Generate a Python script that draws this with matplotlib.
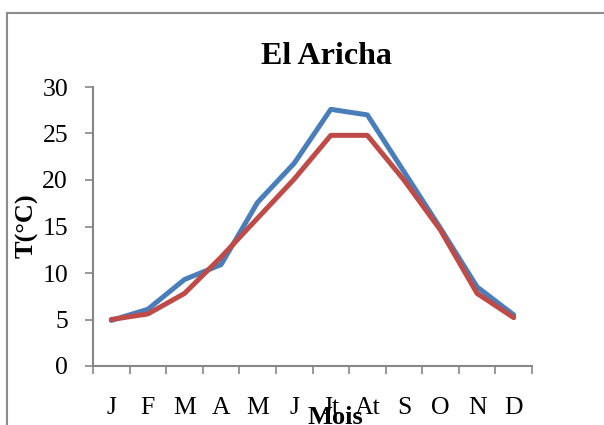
from matplotlib import pyplot as plt
from matplotlib.patches import Rectangle

# monthly temperatures at El Aricha, two series
mois = ['J', 'F', 'M', 'A', 'M', 'J', 'Jt', 'At', 'S', 'O', 'N', 'D']
serie1 = [4.9, 6.1, 9.3, 10.9, 17.6, 21.8, 27.6, 27.0, 20.9, 14.8, 8.5, 5.5]
serie2 = [5.0, 5.6, 7.8, 11.7, 15.9, 20.1, 24.8, 24.8, 20.0, 14.6, 7.8, 5.2]
yticks = [0, 5, 10, 15, 20, 25, 30]

plt.rcParams['font.family'] = ['Liberation Serif', 'DejaVu Serif']

fig = plt.figure(figsize=(6.04, 4.25), dpi=100)
# outer chart frame, running off the right and bottom edges
fig.patches.append(Rectangle((7 / 604, -0.1), 1.2, 1 - 13 / 425 + 0.1,
                             transform=fig.transFigure, fill=False,
                             edgecolor='#8c8c8c', linewidth=1.5))

ax = fig.add_axes([93 / 604, 59 / 425, 439 / 604, 279 / 425])
x = list(range(1, len(mois) + 1))
ax.plot(x, serie1, color='#4a7ebb', linewidth=3.6, solid_capstyle='round')
ax.plot(x, serie2, color='#be4b48', linewidth=3.6, solid_capstyle='round')

ax.set_xlim(0.5, len(mois) + 0.5)
ax.set_ylim(0, 30)
ax.set_yticks(yticks)
ax.set_xticks(x)
ax.set_xticklabels(mois)
ax.set_xticks([i + 0.5 for i in range(len(mois) + 1)], minor=True)
ax.tick_params(axis='x', which='major', length=0, pad=22, labelsize=18.5)
ax.tick_params(axis='x', which='minor', length=6, width=1.2, color='#868686', direction='out')
ax.tick_params(axis='y', length=6, width=1.2, color='#868686', direction='out',
               labelsize=18.5, pad=12)

for s in ['top', 'right']:
    ax.spines[s].set_visible(False)
for s in ['left', 'bottom']:
    ax.spines[s].set_color('#868686')
    ax.spines[s].set_linewidth(1.5)

fig.text(326 / 604, 1 - 56 / 425, 'El Aricha', ha='center', va='center',
         fontsize=23, fontweight='bold')
fig.text(27 / 604, 1 - 226 / 425, 'T(°C)', ha='center', va='center',
         rotation=90, fontsize=19, fontweight='bold')
fig.text(335 / 604, 1 - 418 / 425, 'Mois', ha='center', va='center',
         fontsize=19, fontweight='bold')

fig.savefig('out.png', dpi=100)
